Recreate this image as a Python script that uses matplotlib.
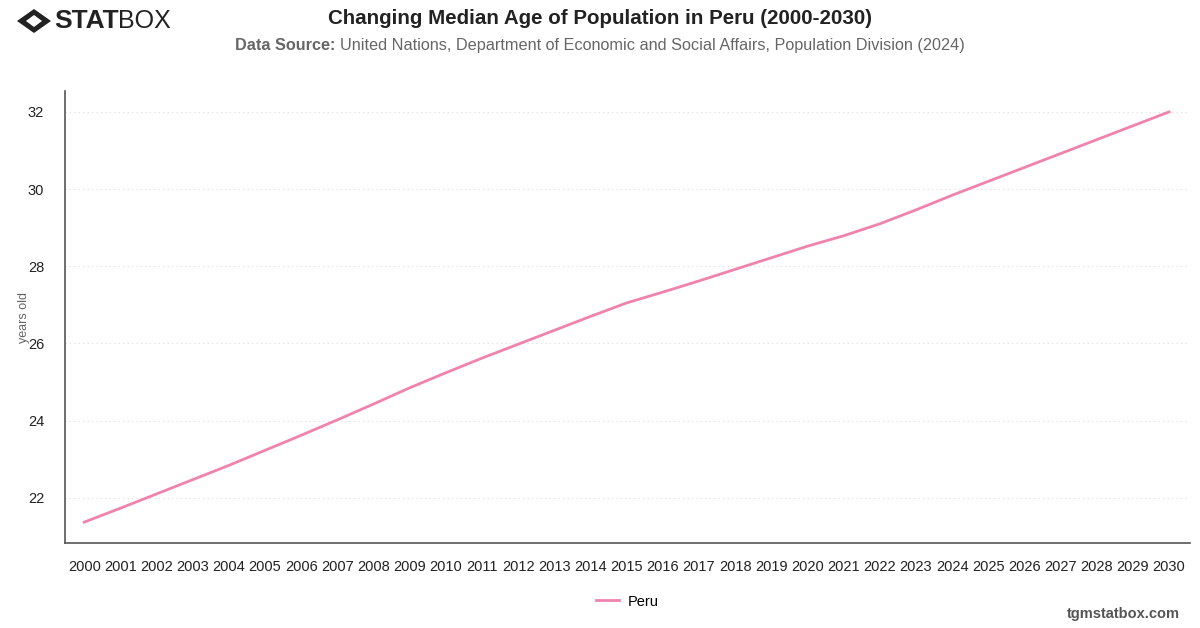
import matplotlib.pyplot as plt
from matplotlib.patches import Polygon

#%% data
years = list(range(2000, 2031))
median_age = [21.37, 21.73, 22.10, 22.47, 22.84, 23.23, 23.62, 24.02, 24.43, 24.85,
              25.24, 25.62, 25.98, 26.34, 26.70, 27.05, 27.33, 27.62, 27.92, 28.22,
              28.52, 28.79, 29.10, 29.46, 29.84, 30.20, 30.56, 30.92, 31.28, 31.64,
              32.00]
y_ticks = [22, 24, 26, 28, 30, 32]
series_name = 'Peru'

#%% plot
plt.rcParams['font.family'] = ['Liberation Sans', 'DejaVu Sans']
fig = plt.figure(figsize=(12, 6.28), dpi=100)
ax = fig.add_axes([0.0542, 0.1354, 0.9375, 0.7196])

ax.plot(years, median_age, color='#f083ad', lw=2, label=series_name)
ax.set_xlim(1999.47, 2030.58)
ax.set_ylim(20.83, 32.54)
ax.set_xticks(years)
ax.set_xticklabels([str(y) for y in years], fontsize=10.5, color='#222222')
ax.set_yticks(y_ticks)
ax.set_yticklabels([str(y) for y in y_ticks], fontsize=10.5, color='#222222')
ax.tick_params(length=0, pad=12)
ax.tick_params(axis='y', pad=15)
ax.grid(axis='y', linestyle=(0, (1, 3)), color='#dddddd', lw=0.8)
for s in ['top', 'right']:
    ax.spines[s].set_visible(False)
for s in ['left', 'bottom']:
    ax.spines[s].set_color('#555555')
    ax.spines[s].set_linewidth(1.2)
ax.set_ylabel('years old', fontsize=9, color='#666666')
ax.yaxis.set_label_coords(-0.031, 0.5)

ax.legend(loc='upper center', bbox_to_anchor=(0.5, -0.085), frameon=False,
          fontsize=10.5, handlelength=1.6, handletextpad=0.6)

# titles
fig.text(0.5, 0.970, 'Changing Median Age of Population in Peru (2000-2030)',
         ha='center', va='center', fontsize=14.8, fontweight='bold', color='#222222')
fig.text(0.196, 0.928, 'Data Source:', ha='left', va='center', fontsize=11.7,
         fontweight='bold', color='#666666')
fig.text(0.2835, 0.928, 'United Nations, Department of Economic and Social Affairs, '
         'Population Division (2024)', ha='left', va='center', fontsize=11.7,
         color='#666666')

# logo
cx, cy = 34, 21
outer = Polygon([(cx - 17, 628 - cy), (cx, 628 - cy + 12), (cx + 17, 628 - cy),
                 (cx, 628 - cy - 12)], closed=True, transform=None,
                facecolor='#222222', edgecolor='none')
inner = Polygon([(cx - 8, 628 - cy), (cx, 628 - cy + 6), (cx + 8, 628 - cy),
                 (cx, 628 - cy - 6)], closed=True, transform=None,
                facecolor='white', edgecolor='none')
fig.patches.extend([outer, inner])
fig.text(0.045, 0.966, 'STAT', ha='left', va='center', fontsize=19,
         fontweight='heavy', color='#222222')
fig.text(0.098, 0.966, 'BOX', ha='left', va='center', fontsize=18, color='#222222')

fig.text(0.983, 0.022, 'tgmstatbox.com', ha='right', va='center', fontsize=10.5,
         fontweight='bold', color='#555555')

fig.savefig('out.png', dpi=100)
